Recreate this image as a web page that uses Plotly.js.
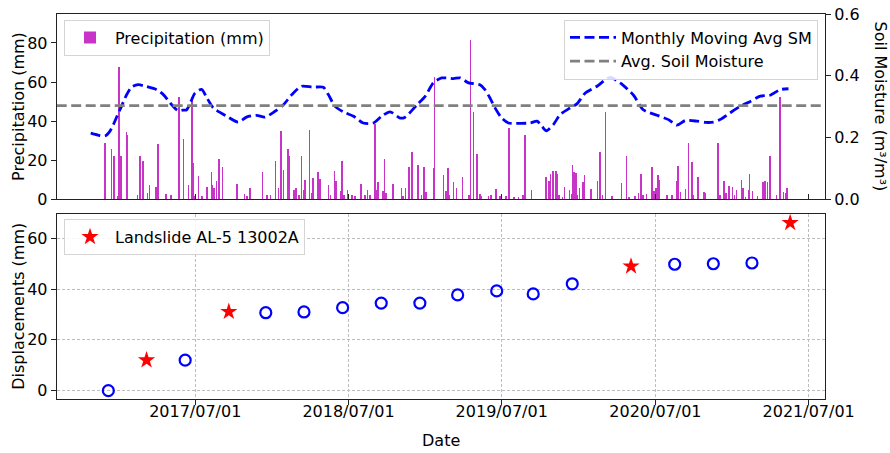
<!DOCTYPE html>
<html>
<head>
<meta charset="utf-8">
<script src="https://cdn.plot.ly/plotly-3.0.1.min.js"></script>
<style>html,body{margin:0;padding:0;background:#fff}</style>
</head>
<body>
<div id="chart" style="width:890px;height:453px"></div>
<script>
// ---- Data ----
const precipDates = [
'2016-11-27','2016-11-28','2016-12-13','2016-12-19','2016-12-28','2016-12-31','2017-01-01','2017-01-05','2017-01-18','2017-01-19',
'2017-02-13','2017-02-19','2017-02-26','2017-03-09','2017-03-13','2017-03-29','2017-04-02','2017-04-22','2017-05-03','2017-05-23',
'2017-06-02','2017-06-14','2017-06-22','2017-06-23','2017-06-26','2017-06-29','2017-07-08','2017-07-16','2017-07-28','2017-08-08',
'2017-08-10','2017-08-14','2017-08-20','2017-08-26','2017-09-03','2017-10-08','2017-10-26','2017-10-31','2017-11-08','2017-12-08',
'2017-12-18','2017-12-26','2018-01-07','2018-01-15','2018-01-21','2018-01-27','2018-02-06','2018-02-09','2018-02-20','2018-02-25',
'2018-03-05','2018-03-10','2018-03-15','2018-03-19','2018-03-29','2018-04-04','2018-04-07','2018-04-19','2018-04-23','2018-05-14',
'2018-05-19','2018-05-28','2018-06-01','2018-06-11','2018-06-15','2018-06-20','2018-06-28','2018-07-09','2018-07-16','2018-07-30',
'2018-08-09','2018-08-15','2018-08-20','2018-09-02','2018-09-05','2018-09-09','2018-09-20','2018-09-24','2018-09-28','2018-10-14',
'2018-11-03','2018-11-07','2018-11-13','2018-11-22','2018-11-29','2018-12-13','2018-12-21','2018-12-27','2019-01-01','2019-01-19',
'2019-01-21','2019-02-11','2019-02-18','2019-02-22','2019-02-26','2019-03-08','2019-03-14','2019-03-29','2019-04-13','2019-04-17',
'2019-04-24','2019-05-02','2019-05-09','2019-05-12','2019-05-30','2019-06-05','2019-06-17','2019-06-25','2019-06-29','2019-07-11',
'2019-07-18','2019-07-30','2019-08-09','2019-08-20','2019-08-25','2019-08-26','2019-09-09','2019-10-14','2019-10-21','2019-10-25',
'2019-10-31','2019-11-06','2019-11-10','2019-11-14','2019-11-22','2019-11-27','2019-12-09','2019-12-14','2019-12-16','2019-12-20',
'2019-12-24','2019-12-26','2020-01-02','2020-01-10','2020-01-14','2020-01-29','2020-02-13','2020-02-19','2020-02-25','2020-03-03',
'2020-03-19','2020-04-11','2020-04-22','2020-04-29','2020-05-13','2020-05-21','2020-05-27','2020-06-01','2020-06-09','2020-06-22',
'2020-06-27','2020-07-02','2020-07-06','2020-07-10','2020-07-28','2020-08-09','2020-08-21','2020-08-23','2020-08-29','2020-09-10',
'2020-09-17','2020-09-25','2020-09-29','2020-10-10','2020-10-24','2020-10-27','2020-11-27','2020-11-28','2020-12-01','2020-12-11',
'2020-12-15','2020-12-23','2020-12-31','2021-01-05','2021-01-09','2021-01-21','2021-01-25','2021-01-31','2021-02-08','2021-02-10',
'2021-02-16','2021-03-01','2021-03-14','2021-03-18','2021-03-24','2021-03-30','2021-04-15','2021-04-23','2021-05-01','2021-05-06',
'2021-05-10'
];
const precipValues = [
28.8,23.7,25.8,22,1.5,67.5,39,22,34.4,32.7,
2.4,22,19.8,3.2,7.5,6.3,28.3,2.7,2,52.2,
31,7.5,52.2,32.2,18.6,1.5,11.8,1.5,6.1,13.8,
7.5,5.8,9.2,20.6,16.4,7.8,2.7,1.9,5.8,14,
2.4,2,19.8,5.8,35.1,15.2,25.8,22,4.9,5.8,
2,22,4.9,10,35.6,3.2,10.9,14,10.4,7.2,
2.4,14.6,9.2,4.1,19.8,2,4.6,2,1.5,7.8,
2,4.6,2,38.5,4.9,8.9,4.1,20.6,3.2,7.8,
5.8,1.5,5.8,16.7,24.2,17.4,2,16.7,3.7,16,
62.6,12.3,4.4,16,2,8.9,5.8,11.4,2,81.4,
44.7,23.2,2.7,1.5,1.5,2,5.3,1.8,1.8,1.5,
36.5,1,1,2.4,33.1,22.3,4.9,11.2,9.2,13,
14.3,14.3,13,2,1,6.3,4.9,2.7,17.7,13.8,
13.6,2.4,5.8,8.9,12.6,5.3,9.5,24,2.4,44.7,
1.8,8.3,22,1,1.5,3.2,13,2.4,2.7,16.4,
4.4,5.8,12.3,10,2,2.4,9.5,16.9,3.6,5.3,
28.8,19.1,2.4,11.2,3.6,3.2,28.8,18.6,2.4,9.2,
3.2,7,6.1,2.4,4.9,10,5.8,1,4.9,13.1,
4.1,1.5,8.7,9.2,8.7,22,2.4,52.2,3.6,3.2,
5.8
];

const smDates = [
'2016-10-25','2016-11-11','2016-11-28','2016-12-10','2016-12-18','2016-12-27','2017-01-05','2017-01-18','2017-01-30','2017-02-15',
'2017-03-07','2017-03-31','2017-04-16','2017-05-06','2017-05-21','2017-06-02','2017-06-10','2017-06-21','2017-06-30','2017-07-16',
'2017-07-29','2017-08-13','2017-09-14','2017-10-11','2017-10-31','2017-11-24','2017-12-14','2018-01-07','2018-01-27','2018-02-16',
'2018-03-11','2018-04-08','2018-05-02','2018-05-14','2018-05-30','2018-06-19','2018-07-13','2018-08-05','2018-08-29','2018-09-18',
'2018-10-08','2018-11-01','2018-11-13','2018-12-11','2018-12-31','2019-01-19','2019-02-08','2019-03-08','2019-03-24','2019-04-13',
'2019-05-10','2019-05-22','2019-06-03','2019-06-15','2019-07-01','2019-07-17','2019-08-14','2019-09-07','2019-09-23','2019-10-05',
'2019-10-15','2019-11-01','2019-11-17','2019-12-11','2019-12-27','2020-01-16','2020-02-13','2020-03-15','2020-04-08','2020-05-10',
'2020-06-02','2020-07-05','2020-08-01','2020-08-21','2020-09-10','2020-10-08','2020-10-28','2020-11-16','2020-12-02','2020-12-26',
'2021-01-19','2021-02-12','2021-03-08','2021-03-31','2021-04-24','2021-05-14'
];
const smValues = [
0.214,0.208,0.205,0.221,0.242,0.270,0.297,0.337,0.363,0.371,
0.365,0.355,0.339,0.306,0.287,0.289,0.289,0.318,0.343,0.356,
0.328,0.296,0.269,0.250,0.266,0.272,0.266,0.285,0.306,0.339,
0.366,0.363,0.363,0.339,0.301,0.283,0.269,0.247,0.247,0.269,
0.283,0.263,0.266,0.306,0.334,0.377,0.393,0.391,0.393,0.377,
0.371,0.355,0.328,0.296,0.263,0.247,0.246,0.247,0.253,0.236,
0.222,0.242,0.274,0.296,0.309,0.344,0.366,0.395,0.377,0.337,
0.290,0.272,0.258,0.240,0.255,0.253,0.249,0.250,0.258,0.280,
0.301,0.317,0.334,0.337,0.355,0.358
];
const avgSoilMoisture = 0.303;

const dispDates = ['2016-12-06','2017-06-07','2017-12-16','2018-03-17','2018-06-17','2018-09-17','2018-12-18',
                   '2019-03-18','2019-06-19','2019-09-14','2019-12-16','2020-08-16','2020-11-16','2021-02-16'];
const dispValues = [0, 12, 30.7, 31, 32.7, 34.5, 34.5, 37.7, 39.3, 38.1, 42.1, 49.8, 50.0, 50.3];
const landslideDates = ['2017-03-07','2017-09-19','2020-05-04','2021-05-18'];
const landslideValues = [12.0, 31.1, 49.0, 66.1];

const xTickDates = ['2017-07-01','2018-07-01','2019-07-01','2020-07-01','2021-07-01'];
const xRange = ['2016-08-05','2021-08-09'];

// ---- Figure ----
const W = 890, H = 453;
const FONT = 'DejaVu Sans, sans-serif';
const FS = 16;
const px = v => v / W;
const py = v => 1 - v / H;
const dom = { x: [px(56.7), px(825)], top: [py(199.3), py(14)], bot: [py(399), py(214)] };
const DAY = 86400000;

const traces = [
  { type: 'bar', x: precipDates, y: precipValues, width: DAY * 1.2, name: 'Precipitation (mm)',
    marker: { color: '#c834c8', line: { width: 0 } }, xaxis: 'x', yaxis: 'y', legend: 'legend' },
  { type: 'scatter', mode: 'lines', x: smDates, y: smValues, name: 'Monthly Moving Avg SM',
    line: { color: '#0000ff', width: 2.8, dash: '10px,4.5px', shape: 'spline', smoothing: 0.7 },
    xaxis: 'x', yaxis: 'y2', legend: 'legend2' },
  { type: 'scatter', mode: 'lines', x: xRange, y: [avgSoilMoisture, avgSoilMoisture], name: 'Avg. Soil Moisture',
    line: { color: '#808080', width: 2.8, dash: '10px,4.5px' }, xaxis: 'x', yaxis: 'y2', legend: 'legend2' },
  { type: 'scatter', mode: 'markers', x: dispDates, y: dispValues, showlegend: false,
    marker: { symbol: 'circle-open', size: 11, color: '#0000ff', line: { width: 2.2, color: '#0000ff' } },
    xaxis: 'x2', yaxis: 'y3' },
  { type: 'scatter', mode: 'markers', x: landslideDates, y: landslideValues, name: 'Landslide AL-5 13002A',
    marker: { symbol: 'star', size: 13, color: '#ff0000', line: { width: 0 } },
    xaxis: 'x2', yaxis: 'y3', legend: 'legend3' }
];

const axLine = { showline: true, linecolor: '#222', linewidth: 1, zeroline: false, automargin: false,
                 tickfont: { family: FONT, size: FS, color: '#000' }, tickcolor: '#222', ticklen: 5 };
const legendBase = { font: { family: FONT, size: FS, color: '#000' }, bgcolor: 'rgba(255,255,255,0.85)',
                     bordercolor: '#d4d4d4', borderwidth: 1, xanchor: 'left', yanchor: 'top', itemwidth: 40 };
const gridStyle = { showgrid: true, gridcolor: '#bdbdbd', gridwidth: 0.8, griddash: '3px,2px' };

const layout = {
  width: W, height: H,
  margin: { l: 0, r: 0, t: 0, b: 0, pad: 0 },
  paper_bgcolor: '#fff', plot_bgcolor: '#fff',
  font: { family: FONT, size: FS, color: '#000' },
  bargap: 0,
  xaxis: Object.assign({}, axLine, { type: 'date', domain: dom.x, anchor: 'y', range: xRange, mirror: true,
    tickvals: xTickDates, showticklabels: false, ticks: 'inside', showgrid: false }),
  yaxis: Object.assign({}, axLine, { domain: dom.top, anchor: 'x', range: [0, 94.8], tickvals: [0, 20, 40, 60, 80],
    ticks: 'outside', showgrid: false, mirror: true }),
  yaxis2: Object.assign({}, axLine, { overlaying: 'y', side: 'right', anchor: 'x', range: [0, 0.6],
    tickvals: [0, 0.2, 0.4, 0.6], tickformat: '.1f', ticks: 'outside', showgrid: false }),
  xaxis2: Object.assign({}, axLine, gridStyle, { type: 'date', domain: dom.x, anchor: 'y3', range: xRange, mirror: true,
    tickvals: xTickDates, tickformat: '%Y/%m/%d', ticks: 'outside', ticklabelstandoff: -7 }),
  yaxis3: Object.assign({}, axLine, gridStyle, { domain: dom.bot, anchor: 'x2', range: [-3.3, 69.6], tickvals: [0, 20, 40, 60],
    ticks: 'outside', mirror: true }),
  legend: Object.assign({}, legendBase, { x: px(64), y: py(19.5) }),
  legend2: Object.assign({}, legendBase, { x: px(818), y: py(19.5), xanchor: 'right', itemwidth: 46 }),
  legend3: Object.assign({}, legendBase, { x: px(64), y: py(219) }),
  annotations: [
    { text: 'Precipitation (mm)', x: px(18.3), y: py(106.6), textangle: -90 },
    { text: 'Soil Moisture (m³/m³)', x: px(880), y: py(106.6), textangle: 90 },
    { text: 'Displacements (mm)', x: px(18.3), y: py(306.5), textangle: -90 },
    { text: 'Date', x: px(440.8), y: py(440) }
  ].map(a => Object.assign({ xref: 'paper', yref: 'paper', showarrow: false, xanchor: 'center', yanchor: 'middle',
    font: { family: FONT, size: FS, color: '#000' } }, a)),
  showlegend: true
};

Plotly.newPlot('chart', traces, layout, { displayModeBar: false });
</script>
</body>
</html>
